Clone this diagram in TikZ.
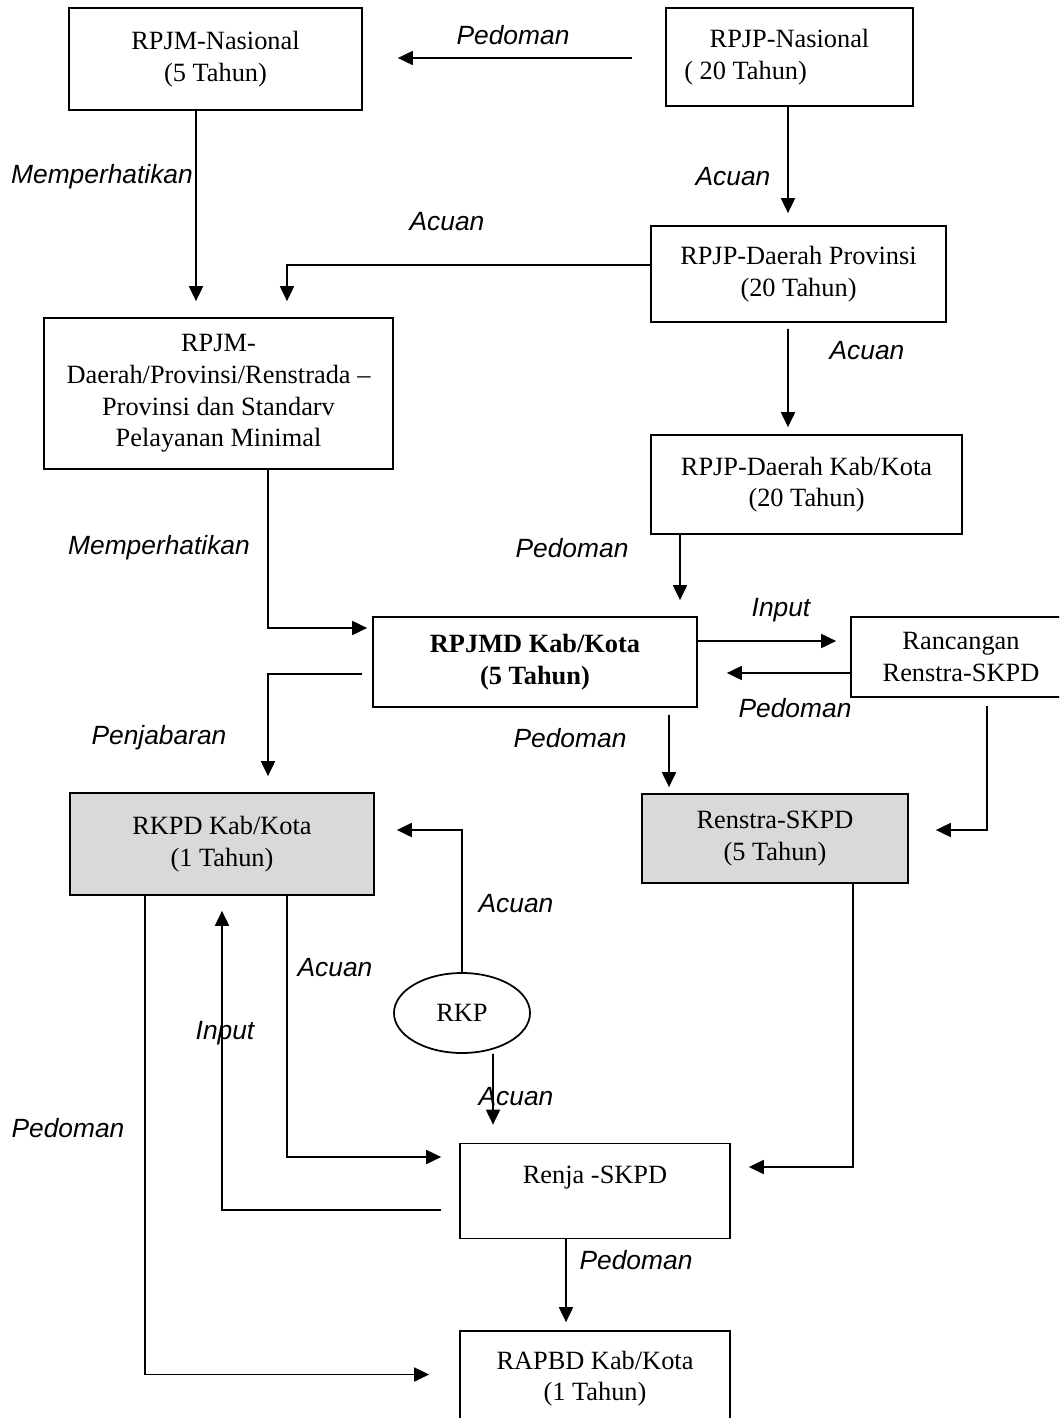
\documentclass[tikz,border=0pt]{standalone}
\usepackage{fontspec}
\setmainfont{Liberation Serif}
\setsansfont{Liberation Sans}
\usetikzlibrary{arrows.meta,shapes.geometric}
\tikzset{
  box/.style={draw,line width=1pt,align=center,inner sep=2pt},
  shaded/.style={box,fill=black!15},
  lbl/.style={font=\sffamily\itshape\fontsize{15}{18}\selectfont},
  conn/.style={line width=0.9pt,-{Triangle[length=8.5pt,width=8pt]}}
}
\begin{document}
\begin{tikzpicture}[x=0.2mm,y=-0.2mm,font=\fontsize{15}{18}\selectfont]
    \useasboundingbox (0,0) rectangle (1059,1418);
    \clip (0,0) rectangle (1059,1418);
    \node[box,minimum width=58.6mm,minimum height=20.4mm] (nas5) at (215.5,59) {RPJM-Nasional\\(5 Tahun)};
    \node[box,minimum width=49.4mm,minimum height=19.6mm] (nas20) at (789.5,57) {RPJP-Nasional\\( 20 Tahun)\hspace*{50pt}};
    \node[box,minimum width=59mm,minimum height=19.2mm] (provD) at (798.5,274) {RPJP-Daerah Provinsi\\(20 Tahun)};
    \node[box,minimum width=69.8mm,minimum height=30.2mm] (rpjmD) at (218.5,393.5) {RPJM-\\Daerah/Provinsi/Renstrada --\\Provinsi dan Standarv\\Pelayanan Minimal};
    \node[box,minimum width=62.2mm,minimum height=19.8mm] (kabD) at (806.5,484.5) {RPJP-Daerah Kab/Kota\\(20 Tahun)};
    \node[box,minimum width=64.8mm,minimum height=18mm,font=\fontsize{15}{18}\selectfont\bfseries] (rpjmd) at (535,662) {RPJMD Kab/Kota\\(5 Tahun)};
    \node[box,minimum width=44mm,minimum height=16mm] (ranc) at (961,657) {Rancangan\\Renstra-SKPD};
    \node[shaded,minimum width=60.8mm,minimum height=20.4mm] (rkpd) at (222,844) {RKPD Kab/Kota\\(1 Tahun)};
    \node[shaded,minimum width=53.2mm,minimum height=17.8mm] (renstra) at (775,838.5) {Renstra-SKPD\\(5 Tahun)};
    \node[draw,ellipse,line width=1pt,inner sep=0pt,minimum width=27.2mm,minimum height=16mm] (rkp) at (462,1013) {RKP};
    \node[box,minimum width=54mm,minimum height=19mm] (renja) at (595,1191) {Renja -SKPD\\~};
    \node[box,minimum width=54mm,minimum height=19mm] (rapbd) at (595,1378.5) {RAPBD Kab/Kota\\(1 Tahun)};

    \draw[conn,shorten <=6.6mm,shorten >=7mm] ([yshift=-0.2mm]nas20.west) -- ([yshift=0.2mm]nas5.east);
    \draw[conn,shorten >=2.4mm] ([xshift=-0.3mm]nas20.south) -- ([xshift=-2.1mm]provD.north);
    \draw[conn,shorten >=3.2mm] ([yshift=1.8mm]provD.west) -| ([xshift=13.7mm]rpjmD.north);
    \draw[conn,shorten >=3.2mm] ([xshift=-3.9mm]nas5.south) -- ([xshift=-4.5mm]rpjmD.north);
    \draw[conn,shorten <=1.2mm,shorten >=1.4mm] ([xshift=-2.1mm]provD.south) -- ([xshift=-3.7mm]kabD.north);
    \draw[conn,shorten >=1mm] ([xshift=9.9mm]rpjmD.south) |- ([yshift=6.8mm]rpjmd.west);
    \draw[conn,shorten >=3.2mm] ([xshift=-25.3mm]kabD.south) -- ([xshift=29mm]rpjmd.north);
    \draw[conn,shorten >=2.8mm] ([yshift=4.2mm]rpjmd.east) -- ([yshift=3.2mm]ranc.west);
    \draw[conn,shorten >=5.8mm] ([yshift=-3.2mm]ranc.west) -- ([yshift=-2.2mm]rpjmd.east);
    \draw[conn,shorten <=2mm,shorten >=3.2mm] ([yshift=-2.4mm]rpjmd.west) -| ([xshift=9.2mm]rkpd.north);
    \draw[conn,shorten <=1.4mm,shorten >=1.2mm] ([xshift=26.8mm]rpjmd.south) -- ([xshift=-21.2mm]renstra.north);
    \draw[conn,shorten <=1.6mm,shorten >=5.4mm] ([xshift=5.2mm]ranc.south) |- ([yshift=1.7mm]renstra.east);
    \draw[conn,shorten >=4.4mm] (rkp.north) |- ([yshift=2.8mm]rkpd.east);
    \draw[conn,shorten >=3.6mm] ([xshift=6.2mm]rkp.south) -- ([xshift=-20.4mm]renja.north);
    \draw[conn,shorten >=3.6mm] ([xshift=13mm]rkpd.south) |- ([yshift=6.8mm]renja.west);
    \draw[conn,shorten <=3.6mm,shorten >=3mm] ([yshift=-3.8mm]renja.west) -| (rkpd.south);
    \draw[conn,shorten >=6mm] ([xshift=-15.4mm]rkpd.south) |- ([yshift=0.8mm]rapbd.west);
    \draw[conn,shorten >=3.6mm] ([xshift=15.6mm]renstra.south) |- ([yshift=4.8mm]renja.east);
    \draw[conn,shorten >=1.6mm] ([xshift=-5.8mm]renja.south) -- ([xshift=-5.8mm]rapbd.north);

    \node[lbl] (lPed1) at (513,35) {Pedoman};
    \node[lbl] (lAcu1) at (733,177) {Acuan};
    \node[lbl] (lMem1) at (102,177) {Memperhatikan};
    \node[lbl] (lAcu2) at (447,222) {Acuan};
    \node[lbl] (lAcu3) at (867,351) {Acuan};
    \node[lbl] (lMem2) at (159,548) {Memperhatikan};
    \node[lbl] (lPed2) at (572,548) {Pedoman};
    \node[lbl] (lInp1) at (781,610) {Input};
    \node[lbl] (lPed3) at (795,708) {Pedoman};
    \node[lbl] (lPen) at (159,738) {Penjabaran};
    \node[lbl] (lPed4) at (570,738) {Pedoman};
    \node[lbl] (lAcu4) at (516,904) {Acuan};
    \node[lbl] (lAcu5) at (335,968) {Acuan};
    \node[lbl] (lInp2) at (225,1033) {Input};
    \node[lbl] (lAcu6) at (516,1097) {Acuan};
    \node[lbl] (lPed5) at (68,1128) {Pedoman};
    \node[lbl] (lPed6) at (636,1260) {Pedoman};
\end{tikzpicture}
\end{document}
